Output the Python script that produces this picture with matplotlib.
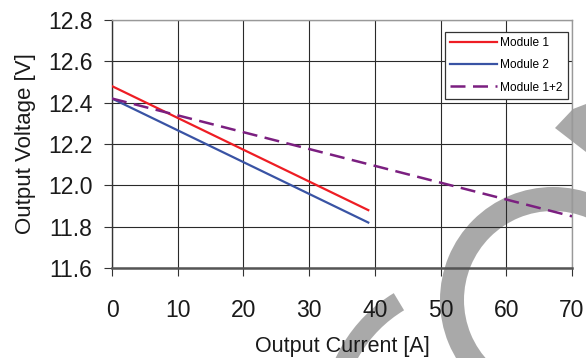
import numpy as np
import matplotlib
matplotlib.use('Agg')
import matplotlib.pyplot as plt
from matplotlib.patches import Wedge, Polygon

# data
current_m1 = [0, 39]
voltage_m1 = [12.48, 11.88]
current_m2 = [0, 39]
voltage_m2 = [12.42, 11.82]
current_m12 = [0, 70]
voltage_m12 = [12.42, 11.85]
labels = ['Module 1', 'Module 2', 'Module 1+2']
x_ticks = [0, 10, 20, 30, 40, 50, 60, 70]
y_ticks = [11.6, 11.8, 12.0, 12.2, 12.4, 12.6, 12.8]

plt.rcParams['font.family'] = ['Liberation Sans', 'DejaVu Sans']

W, H = 586, 358
fig = plt.figure(figsize=(W / 100, H / 100), dpi=100)

# grey page decorations behind the chart, given in pixels (y from top)
def px(x, y):
    return (x / 100, (H - y) / 100)

grey = '#a9a9a9'
inch = fig.dpi_scale_trans
fig.patches.append(Wedge(px(553, 300), 1.13, 0, 360, width=0.24, transform=inch,
                         facecolor=grey, edgecolor='none', zorder=-1))
fig.patches.append(Wedge(px(470, 420), 1.48, 121, 178, width=0.20, transform=inch,
                         facecolor=grey, edgecolor='none', zorder=-1))
fig.patches.append(Polygon([px(555, 128), px(573, 109), px(586, 104), px(586, 152)],
                           closed=True, transform=inch, facecolor=grey,
                           edgecolor='none', zorder=-1))

ax = fig.add_axes([112 / W, 1 - 268 / H, 460 / W, 248 / H])
ax.set_facecolor('none')

ax.plot(current_m1, voltage_m1, color='#ee1d24', lw=1.6, label=labels[0], zorder=3)
ax.plot(current_m2, voltage_m2, color='#3953a4', lw=1.6, label=labels[1], zorder=3)
ax.plot(current_m12, voltage_m12, color='#7b1f80', lw=1.8, dashes=(6, 3),
        label=labels[2], zorder=3)

ax.set_xlim(0, 70)
ax.set_ylim(11.6, 12.8)
ax.set_xticks(x_ticks)
ax.set_yticks(y_ticks)
ax.set_yticklabels([f'{v:.1f}' for v in y_ticks])
ax.grid(True, color='#2a2a2a', lw=0.8)
ax.set_axisbelow(True)

ax.tick_params(axis='both', direction='out', length=6, width=0.8, color='#333333',
               labelsize=16.5, labelcolor='#1a1a1a')
ax.tick_params(axis='x', pad=16)
ax.tick_params(axis='y', pad=8)

for side in ['top', 'right']:
    ax.spines[side].set_color('#999999')
    ax.spines[side].set_linewidth(1.0)
ax.spines['left'].set_color('#333333')
ax.spines['left'].set_linewidth(1.0)
ax.spines['bottom'].set_color('#555555')
ax.spines['bottom'].set_linewidth(1.8)

ax.set_xlabel('Output Current [A]', fontsize=15.5, color='#1a1a1a', labelpad=10.5)
ax.set_ylabel('Output Voltage [V]', fontsize=16, color='#1a1a1a', labelpad=9)

leg = ax.legend(loc='upper right', bbox_to_anchor=(0.991, 0.952), fontsize=8.6,
                frameon=True, fancybox=False, edgecolor='#333333', framealpha=1,
                handlelength=3.9, handletextpad=0.25, labelspacing=0.85,
                borderpad=0.45, borderaxespad=0)
leg.get_frame().set_linewidth(0.9)

fig.savefig('out.png', dpi=100)
